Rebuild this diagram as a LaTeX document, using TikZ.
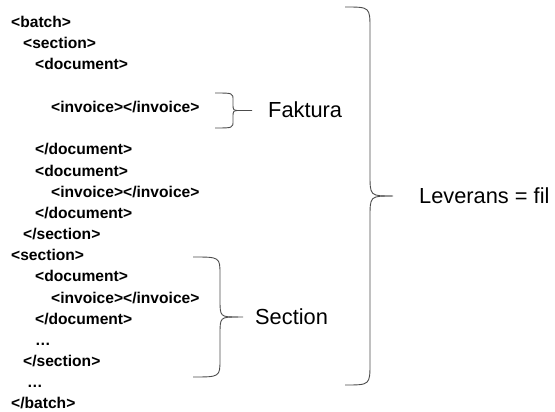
\documentclass[tikz,border=0pt]{standalone}
\usepackage{fontspec}
\setmainfont{Liberation Sans}
\usetikzlibrary{positioning}

\tikzset{
  xmlline/.style={anchor=west, inner sep=0pt, text height=11pt, text depth=0pt,
    font=\fontsize{15.6}{18}\selectfont\bfseries},
  bracetext/.style={anchor=west, inner sep=0pt, font=\fontsize{21.8}{26}\selectfont},
  bracket/.style={draw=black!70, line width=0.9pt, line join=round}
}

% curly bracket: left x, top y, bottom y, spine x, tip x, bend
\newcommand{\curly}[6]{%
  \pgfmathsetmacro\ymid{(#2+#3)/2}
  \draw[bracket] (#1,#2) .. controls (#4,#2) .. (#4,#2+#6)
    -- (#4,\ymid-#6) .. controls (#4,\ymid) .. (#4+#6,\ymid) -- (#5,\ymid);
  \draw[bracket] (#1,#3) .. controls (#4,#3) .. (#4,#3-#6)
    -- (#4,\ymid+#6) .. controls (#4,\ymid) .. (#4+#6,\ymid);
}

\begin{document}
\begin{tikzpicture}[x=1pt, y=-1pt]
  \useasboundingbox (0,0) rectangle (555,412);

  % the xml text, one line every 21.2
  \node[xmlline] (batch) at (11,22)  {<batch>};
  \node[xmlline] (secA)  at (23,43)  {<section>};
  \node[xmlline] (docA)  at (35,64)  {<document>};
  \node[xmlline] (invA)  at (51,107) {<invoice></invoice>};
  \node[xmlline] (docAe) at (35,149) {</document>};
  \node[xmlline] (docB)  at (35,171) {<document>};
  \node[xmlline] (invB)  at (51,192) {<invoice></invoice>};
  \node[xmlline] (docBe) at (35,213) {</document>};
  \node[xmlline] (secAe) at (23,234) {</section>};
  \node[xmlline] (secB)  at (11,255) {<section>};
  \node[xmlline] (docC)  at (35,276) {<document>};
  \node[xmlline] (invC)  at (51,298) {<invoice></invoice>};
  \node[xmlline] (docCe) at (35,319) {</document>};
  \node[xmlline] (dotsA) at (35,340) {\dots};
  \node[xmlline] (secBe) at (23,361) {</section>};
  \node[xmlline] (dotsB) at (27,382) {\dots};
  \node[xmlline] (batche) at (11,403) {</batch>};

  % brackets
  \curly{215}{93}{128}{233}{252}{7}
  \curly{193}{257}{377}{220}{243}{18}
  \curly{345}{7}{385}{370}{393}{22}

  \coordinate (ftip) at (252,110);
  \coordinate (stip) at (243,317);
  \coordinate (ltip) at (393,196);

  \node[bracetext, right=16pt of ftip] (faktura)  {Faktura};
  \node[bracetext, right=12pt of stip] (section)  {Section};
  \node[bracetext, right=26pt of ltip] (leverans) {Leverans = fil};
\end{tikzpicture}
\end{document}
